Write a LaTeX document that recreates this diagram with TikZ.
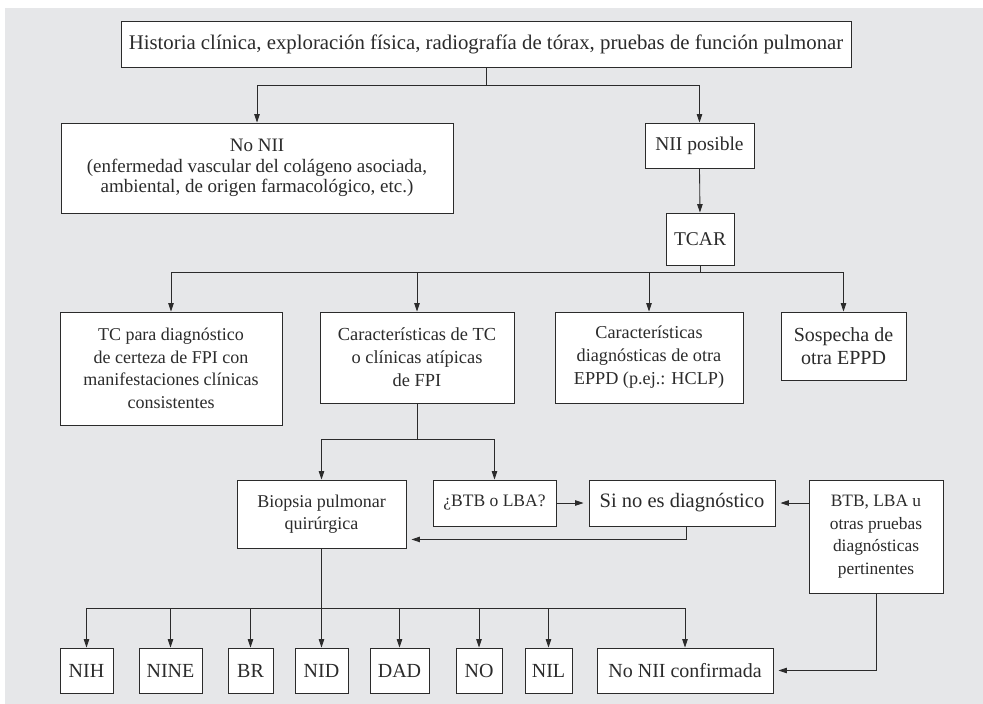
\documentclass[tikz,border=0pt]{standalone}
\usepackage{fontspec}
\setmainfont{Liberation Serif}
\usetikzlibrary{arrows.meta,calc}
\definecolor{bgc}{HTML}{E6E7E9}
\definecolor{lnc}{HTML}{2B2B2B}
\begin{document}
\begin{tikzpicture}[x=1pt,y=-1pt,
  box/.style={draw=lnc, fill=white, line width=0.9pt, inner sep=0pt, align=center,
    font=\fontsize{18}{22.5}\selectfont, text=lnc},
  conn/.style={draw=lnc, line width=0.85pt},
  arr/.style={conn, -{Triangle[length=8.5pt,width=5.5pt]}},
  harr/.style={arr, shorten >=5pt}]
\useasboundingbox (0,0) rectangle (983,704);
\fill[bgc] (5,8) rectangle (983,704);

% row 1
\node[box, minimum width=730pt, minimum height=46pt, font=\fontsize{20.8}{24}\selectfont] (top) at (486,44)
  {Historia clínica, exploración física, radiografía de tórax, pruebas de función pulmonar};
% row 2
\node[box, minimum width=392pt, minimum height=90pt, font=\fontsize{19}{20.8}\selectfont] (nonii) at (257,168)
  {No NII\\(enfermedad vascular del colágeno asociada,\\ambiental, de origen farmacológico, etc.)};
\node[box, minimum width=109pt, minimum height=45pt, font=\fontsize{19.5}{22.5}\selectfont] (posible) at (699.5,145.5) {NII posible};
\node[box, minimum width=68pt, minimum height=52pt, font=\fontsize{19.5}{22.5}\selectfont] (tcar) at (700,239) {TCAR};
% row 3
\node[box, minimum width=222pt, minimum height=113pt] (tc) at (171,368.5)
  {TC para diagnóstico\\de certeza de FPI con\\manifestaciones clínicas\\consistentes};
\node[box, minimum width=194pt, minimum height=91pt, font=\fontsize{18.4}{23}\selectfont] (carac) at (417,357.5)
  {Características de TC\\o clínicas atípicas\\de FPI};
\node[box, minimum width=188pt, minimum height=91pt, font=\fontsize{18.2}{23}\selectfont] (diag) at (649,357.5)
  {Características\\diagnósticas de otra\\EPPD (p.ej.: HCLP)};
\node[box, minimum width=125pt, minimum height=68pt, font=\fontsize{20}{23}\selectfont] (sosp) at (843.5,346)
  {Sospecha de\\otra EPPD};
% row 4
\node[box, minimum width=169pt, minimum height=68pt] (biop) at (321.5,514)
  {Biopsia pulmonar\\quirúrgica};
\node[box, minimum width=123pt, minimum height=46pt, font=\fontsize{17.5}{22}\selectfont] (btbq) at (494.5,503) {¿BTB o LBA?};
\node[box, minimum width=186pt, minimum height=46pt, font=\fontsize{20.5}{22}\selectfont] (sino) at (682,503) {Si no es diagnóstico};
\node[box, minimum width=134pt, minimum height=113pt, font=\fontsize{17.4}{22.5}\selectfont] (btb) at (876,536.5)
  {BTB, LBA u\\otras pruebas\\diagnósticas\\pertinentes};
% row 5
\tikzset{bot/.style={box, minimum height=45pt, font=\fontsize{20}{22}\selectfont}}
\node[bot, minimum width=53pt] (nih) at (86.5,670.5) {NIH};
\node[bot, minimum width=63pt] (nine) at (170.5,670.5) {NINE};
\node[bot, minimum width=45pt] (br) at (250.5,670.5) {BR};
\node[bot, minimum width=53pt] (nid) at (321.5,670.5) {NID};
\node[bot, minimum width=59pt] (dad) at (399.5,670.5) {DAD};
\node[bot, minimum width=46pt] (no) at (479,670.5) {NO};
\node[bot, minimum width=47pt] (nil) at (548.5,670.5) {NIL};
\node[bot, minimum width=176pt] (conf) at (685,670.5) {No NII confirmada};

% connectors
\draw[conn] (top.south) -- ++(0,18) coordinate (j1);
\draw[arr] (j1) -| (nonii.north);
\draw[arr] (j1) -| (posible.north);
\draw[arr] (posible.south) -- (tcar.north);

\draw[conn] (tcar.south) -- ++(0,7) coordinate (j2);
\draw[arr] (j2) -| (tc.north);
\draw[arr] (j2) -| (carac.north);
\draw[arr] (j2) -| (diag.north);
\draw[arr] (j2) -| (sosp.north);

\draw[conn] (carac.south) -- ++(0,36) coordinate (j3);
\draw[arr] (j3) -| (biop.north);
\draw[arr] (j3) -| (btbq.north);

\draw[harr] (btbq.east) -- (sino.west);
\draw[harr] (sino.east -| btb.west) -- (sino.east);
\draw[harr] ($(sino.south)+(4,0)$) |- ($(biop.south east)+(0,-9)$);

\draw[conn] (biop.south) -- ++(0,60) coordinate (j4);
\foreach \n in {nih,nine,br,nid,dad,no,nil,conf}
  \draw[arr] (j4) -| (\n.north);

\draw[harr] (btb.south) |- (conf.east);
\end{tikzpicture}
\end{document}
